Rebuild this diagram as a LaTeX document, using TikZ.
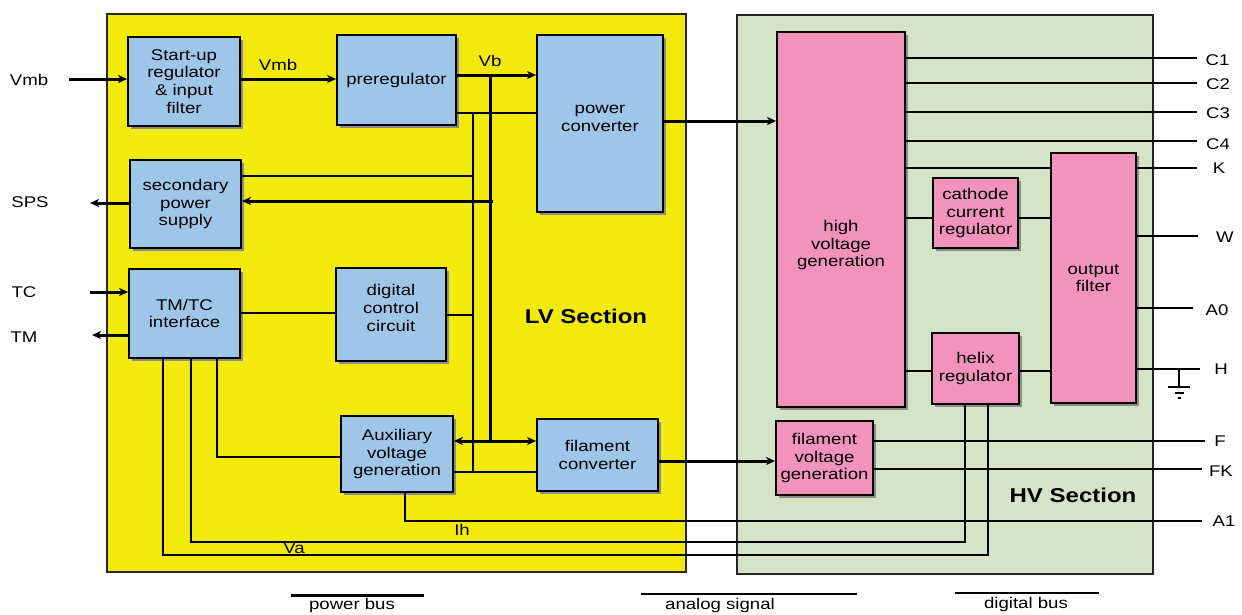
\documentclass[tikz,border=0pt]{standalone}
\usepackage{fontspec}
\setmainfont{Liberation Sans}[FakeStretch=1.2]
\usetikzlibrary{shadows,arrows.meta}
\definecolor{lvyellow}{RGB}{242,234,12}
\definecolor{hvgreen}{RGB}{211,229,198}
\definecolor{lvblue}{RGB}{158,198,232}
\definecolor{hvpink}{RGB}{242,147,189}
\definecolor{shgray}{RGB}{140,140,140}
\begin{document}
\begin{tikzpicture}[x=1pt,y=-1pt,
  >={Stealth[length=9pt,width=8pt,inset=2.5pt]},
  txt/.style={font=\fontsize{15.5}{17.8}\selectfont, inner sep=0pt, align=center},
  blk/.style={txt, draw=black, line width=1.8pt,
    drop shadow={shadow xshift=3pt,shadow yshift=-3pt,fill=shgray,opacity=1}},
  lvblk/.style={blk, fill=lvblue},
  hvblk/.style={blk, fill=hvpink},
  section/.style={draw=black!85, line width=1.5pt},
  sectitle/.style={font=\fontsize{20}{22}\selectfont\bfseries, inner sep=0pt},
  pbus/.style={line width=3pt},
  sig/.style={line width=1.2pt},
  gnd/.style={line width=1.8pt},
]
\useasboundingbox (0,0) rectangle (1242,614);

% sections
\draw[section, fill=lvyellow] (107,14) rectangle (686,572);
\draw[section, fill=hvgreen] (737,15) rectangle (1153,574);
\node[sectitle] (lvt) at (586,316) {LV Section};
\node[sectitle] (hvt) at (1073,495) {HV Section};

% LV blocks
\node[lvblk, minimum width=112pt, minimum height=89pt] (su) at (184,81.5) {Start-up\\regulator\\\& input\\filter};
\node[lvblk, minimum width=119pt, minimum height=90pt] (pre) at (396.5,80) {preregulator};
\node[lvblk, minimum width=126pt, minimum height=177pt,
  label={[txt,yshift=5.5pt]center:{power\\converter}}] (pc) at (600,123.5) {};
\node[lvblk, minimum width=111pt, minimum height=88pt] (sps) at (185.5,204) {secondary\\power\\supply};
\node[lvblk, minimum width=111pt, minimum height=89pt] (tmtc) at (184.5,313.5) {TM/TC\\interface};
\node[lvblk, minimum width=110pt, minimum height=93pt,
  label={[txt,yshift=6.5pt]center:{digital\\control\\circuit}}] (dcc) at (391,314.5) {};
\node[lvblk, minimum width=112pt, minimum height=76pt] (aux) at (397,454) {Auxiliary\\voltage\\generation};
\node[lvblk, minimum width=121pt, minimum height=72pt] (fc) at (597.5,455) {filament\\converter};

% HV blocks
\node[hvblk, minimum width=128pt, minimum height=375pt,
  label={[txt,yshift=-25.5pt]center:{high\\voltage\\generation}}] (hvg) at (841,219.5) {};
\node[hvblk, minimum width=85pt, minimum height=70pt] (ccr) at (975.5,213) {cathode\\current\\regulator};
\node[hvblk, minimum width=85pt, minimum height=250pt] (of) at (1093.5,278) {output\\filter};
\node[hvblk, minimum width=87pt, minimum height=71pt] (hr) at (975.5,368.5) {helix\\regulator};
\node[hvblk, minimum width=97pt, minimum height=74pt] (fvg) at (824.5,458) {filament\\voltage\\generation};

% outer labels left
\node[txt] (lvmb) at (29,80) {Vmb};
\node[txt] (lsps) at (30,202) {SPS};
\node[txt] (ltc) at (24,292) {TC};
\node[txt] (ltm) at (24,337) {TM};

% inner labels
\node[txt] (lvmb2) at (278,65) {Vmb};
\node[txt] (lvb) at (490,61) {Vb};
\node[txt] (lih) at (462,530) {Ih};
\node[txt] (lva) at (294,548) {Va};

% right labels
\node[txt] (lc1) at (1217.5,60) {C1};
\node[txt] (lc2) at (1218,84) {C2};
\node[txt] (lc3) at (1218,113) {C3};
\node[txt] (lc4) at (1218,144) {C4};
\node[txt] (lk) at (1219,168) {K};
\node[txt] (lw) at (1225,237) {W};
\node[txt] (la0) at (1217,310) {A0};
\node[txt] (lh) at (1221,369) {H};
\node[txt] (lf) at (1220,441) {F};
\node[txt] (lfk) at (1221,471) {FK};
\node[txt] (la1) at (1224,521) {A1};

% coordinates
\coordinate (vmbin) at (69,79);
\coordinate (vb) at (490,75);
\coordinate (busb) at (490,441);
\coordinate (spsbus) at (493,201);
\coordinate (spsout) at (90,203);
\coordinate (tcin) at (90,292);
\coordinate (tmout) at (92,335);
\coordinate (hvin) at (0,121);
\coordinate (fvin) at (0,461);
\coordinate (t1) at (473,113);
\coordinate (t2) at (473,176);
\coordinate (t3) at (473,315);
\coordinate (t4) at (473,472);
\coordinate (tt) at (0,313);
\coordinate (va1) at (163,555);
\coordinate (va2) at (988,555);
\coordinate (ih1) at (191,542);
\coordinate (ih2) at (965,542);
\coordinate (al) at (217,457);
\coordinate (a1a) at (405,521);
\coordinate (a1b) at (1202,521);
\coordinate (c1) at (1197,58);
\coordinate (c2) at (1197,83);
\coordinate (c3) at (1197,112);
\coordinate (c4) at (1197,141);
\coordinate (k1) at (1197,168);
\coordinate (cy) at (0,218);
\coordinate (w1) at (1198,236);
\coordinate (a0) at (1193,308);
\coordinate (hy) at (0,371);
\coordinate (h1) at (1200,369);
\coordinate (g0) at (1179,369);
\coordinate (g1) at (1179,387);
\coordinate (f1) at (1205,441);
\coordinate (fk1) at (1202,469);

% power bus
\draw[pbus,->] (vmbin) -- (su.west |- vmbin);
\draw[pbus,->] (su.east |- vmbin) -- (pre.west |- vmbin);
\draw[pbus,->] (pre.east |- vb) -- (pc.west |- vb);
\draw[pbus] (vb) -- (busb);
\draw[pbus,<->] (aux.east |- busb) -- (fc.west |- busb);
\draw[pbus,->] (spsbus) -- (sps.east |- spsbus);
\draw[pbus,->] (sps.west |- spsout) -- (spsout);
\draw[pbus,->] (tcin) -- (tmtc.west |- tcin);
\draw[pbus,->] (tmtc.west |- tmout) -- (tmout);
\draw[pbus,->] (pc.east |- hvin) -- (hvg.west |- hvin);
\draw[pbus,->] (fc.east |- fvin) -- (fvg.west |- fvin);

% analog signals LV
\draw[sig] (pre.east |- t1) -- (pc.west |- t1);
\draw[sig] (t1) -- (t4);
\draw[sig] (aux.east |- t4) -- (fc.west |- t4);
\draw[sig] (sps.east |- t2) -- (t2);
\draw[sig] (dcc.east |- t3) -- (t3);
\draw[sig] (tmtc.east |- tt) -- (dcc.west |- tt);
\draw[sig] (tmtc.south -| va1) -- (va1) -- (va2) -- (hr.south -| va2);
\draw[sig] (tmtc.south -| ih1) -- (ih1) -- (ih2) -- (hr.south -| ih2);
\draw[sig] (tmtc.south -| al) -- (al) -- (aux.west |- al);
\draw[sig] (aux.south -| a1a) -- (a1a) -- (a1b);

% HV signals
\draw[sig] (hvg.east |- c1) -- (c1);
\draw[sig] (hvg.east |- c2) -- (c2);
\draw[sig] (hvg.east |- c3) -- (c3);
\draw[sig] (hvg.east |- c4) -- (c4);
\draw[sig] (hvg.east |- k1) -- (of.west |- k1);
\draw[sig] (of.east |- k1) -- (k1);
\draw[sig] (hvg.east |- cy) -- (ccr.west |- cy);
\draw[sig] (ccr.east |- cy) -- (of.west |- cy);
\draw[sig] (of.east |- w1) -- (w1);
\draw[sig] (of.east |- a0) -- (a0);
\draw[sig] (hvg.east |- hy) -- (hr.west |- hy);
\draw[sig] (hr.east |- hy) -- (of.west |- hy);
\draw[sig] (of.east |- h1) -- (h1);
\draw[sig] (fvg.east |- f1) -- (f1);
\draw[sig] (fvg.east |- fk1) -- (fk1);

% ground
\draw[gnd] (g0) -- (g1);
\draw[gnd] (1168,387) -- (1190,387);
\draw[gnd] (1174.5,393) -- (1183.5,393);
\draw[gnd] (1177.5,398) -- (1180.5,398);

% legend
\draw[pbus] (291,595) -- (424,595);
\node[txt] (lgp) at (352,605) {power bus};
\draw[sig] (641,594) -- (857,594);
\node[txt] (lga) at (720,605) {analog signal};
\draw[line width=1.4pt] (955,593) -- (1099,593);
\node[txt] (lgd) at (1026,604) {digital bus};
\end{tikzpicture}
\end{document}
